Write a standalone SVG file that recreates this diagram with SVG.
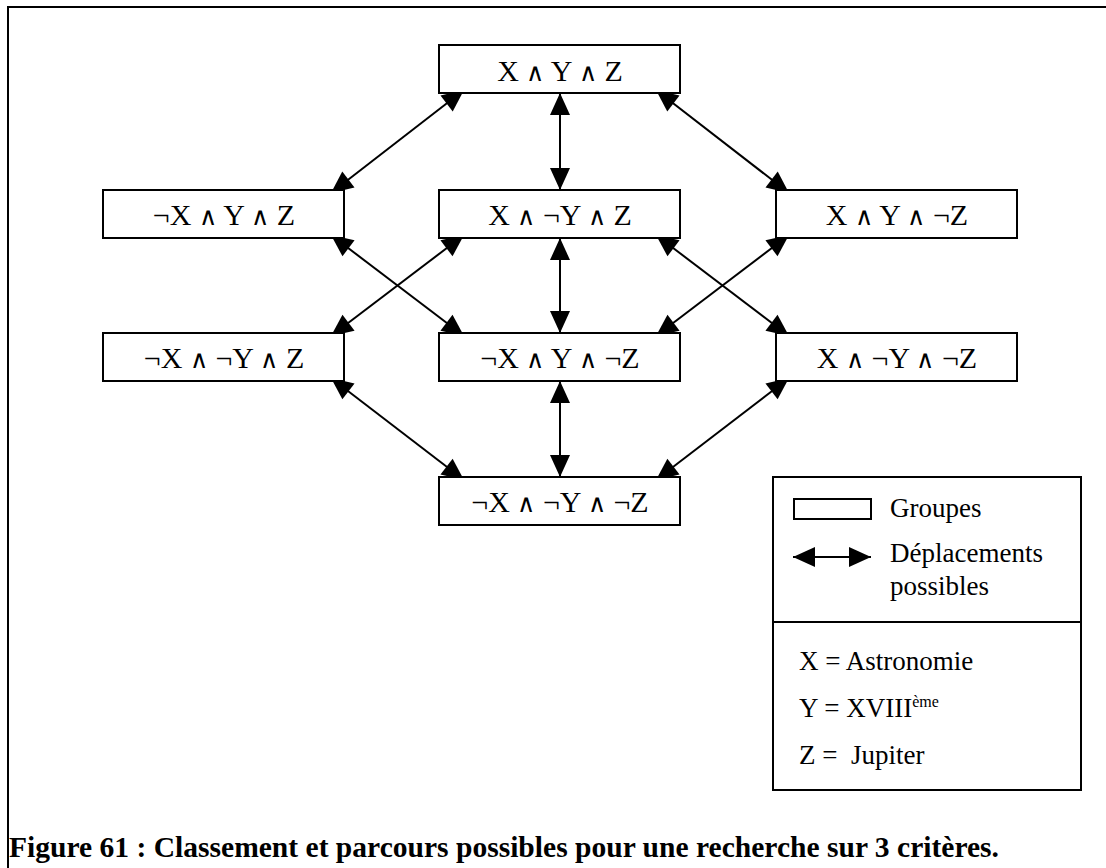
<svg xmlns="http://www.w3.org/2000/svg" width="1106" height="868" viewBox="0 0 1106 868">
  <style>
    .box { fill: #ffffff; stroke: #000000; stroke-width: 2; }
    .lbl { font-family: "Liberation Serif", "Times New Roman", serif; font-size: 30px; fill: #000000; text-anchor: middle; }
    .op { font-family: "DejaVu Sans", sans-serif; font-size: 25px; font-weight: 200; }
    .leg { font-family: "Liberation Serif", "Times New Roman", serif; font-size: 27px; fill: #000000; }
    .sup { font-family: "Liberation Serif", "Times New Roman", serif; font-size: 16px; fill: #000000; }
    .cap { font-family: "Liberation Serif", "Times New Roman", serif; font-size: 29px; font-weight: bold; fill: #000000; }
    .link { stroke: #000000; stroke-width: 2; fill: none; marker-start: url(#arr); marker-end: url(#arr); }
  </style>
  <defs>
    <marker id="arr" markerUnits="userSpaceOnUse" markerWidth="22" markerHeight="20" refX="22" refY="10" orient="auto-start-reverse" overflow="visible">
      <path d="M0,0 L22,10 L0,20 Z" fill="#000000"/>
    </marker>
  </defs>

  <rect width="1106" height="868" fill="#ffffff"/>
  <!-- frame: only the top and left edges fall inside the page -->
  <path d="M8,868 L8,7 L1106,7" fill="none" stroke="#000000" stroke-width="2"/>

  <!-- connectors (diagonal tips run a few px under the boxes) -->
  <g id="connectors">
    <line class="link" x1="464" y1="90" x2="331" y2="193"/>
    <line class="link" x1="560" y1="93" x2="560" y2="190"/>
    <line class="link" x1="656" y1="90" x2="789" y2="193"/>
    <line class="link" x1="331" y1="235" x2="464" y2="336"/>
    <line class="link" x1="464" y1="235" x2="331" y2="336"/>
    <line class="link" x1="560" y1="238" x2="560" y2="333"/>
    <line class="link" x1="656" y1="235" x2="789" y2="336"/>
    <line class="link" x1="789" y1="235" x2="656" y2="336"/>
    <line class="link" x1="331" y1="378" x2="464" y2="480"/>
    <line class="link" x1="560" y1="381" x2="560" y2="477"/>
    <line class="link" x1="789" y1="378" x2="656" y2="480"/>
  </g>

  <g id="n-xyz">
    <rect class="box" x="439" y="45" width="241" height="48"/>
    <text class="lbl" x="560" y="81">X <tspan class="op">∧</tspan> Y <tspan class="op">∧</tspan> Z</text>
  </g>
  <g id="n-nx-y-z">
    <rect class="box" x="103" y="190" width="241" height="48"/>
    <text class="lbl" x="224" y="225">¬X <tspan class="op">∧</tspan> Y <tspan class="op">∧</tspan> Z</text>
  </g>
  <g id="n-x-ny-z">
    <rect class="box" x="439" y="190" width="241" height="48"/>
    <text class="lbl" x="560" y="225">X <tspan class="op">∧</tspan> ¬Y <tspan class="op">∧</tspan> Z</text>
  </g>
  <g id="n-x-y-nz">
    <rect class="box" x="776" y="190" width="241" height="48"/>
    <text class="lbl" x="897" y="225">X <tspan class="op">∧</tspan> Y <tspan class="op">∧</tspan> ¬Z</text>
  </g>
  <g id="n-nx-ny-z">
    <rect class="box" x="103" y="333" width="241" height="48"/>
    <text class="lbl" x="224" y="368">¬X <tspan class="op">∧</tspan> ¬Y <tspan class="op">∧</tspan> Z</text>
  </g>
  <g id="n-nx-y-nz">
    <rect class="box" x="439" y="333" width="241" height="48"/>
    <text class="lbl" x="560" y="368">¬X <tspan class="op">∧</tspan> Y <tspan class="op">∧</tspan> ¬Z</text>
  </g>
  <g id="n-x-ny-nz">
    <rect class="box" x="776" y="333" width="241" height="48"/>
    <text class="lbl" x="897" y="368">X <tspan class="op">∧</tspan> ¬Y <tspan class="op">∧</tspan> ¬Z</text>
  </g>
  <g id="n-nx-ny-nz">
    <rect class="box" x="439" y="477" width="241" height="48"/>
    <text class="lbl" x="560" y="512">¬X <tspan class="op">∧</tspan> ¬Y <tspan class="op">∧</tspan> ¬Z</text>
  </g>

  <!-- legend -->
  <g id="legend">
    <rect class="box" x="773" y="477" width="308" height="313"/>
    <line x1="773" y1="622" x2="1081" y2="622" stroke="#000000" stroke-width="2"/>
    <rect x="794" y="499" width="77" height="20" fill="#ffffff" stroke="#000000" stroke-width="2"/>
    <text class="leg" x="890" y="517">Groupes</text>
    <line class="link" x1="793" y1="557" x2="871" y2="557"/>
    <text class="leg" x="890" y="562">Déplacements</text>
    <text class="leg" x="890" y="595">possibles</text>
    <text class="leg" x="799" y="670">X = Astronomie</text>
    <text class="leg" x="799" y="717">Y = XVIII<tspan class="sup" dy="-10">ème</tspan></text>
    <text class="leg" x="799" y="764" xml:space="preserve">Z =  Jupiter</text>
  </g>

  <text class="cap" x="9" y="857" textLength="990" lengthAdjust="spacingAndGlyphs">Figure 61 : Classement et parcours possibles pour une recherche sur 3 critères.</text>
</svg>
